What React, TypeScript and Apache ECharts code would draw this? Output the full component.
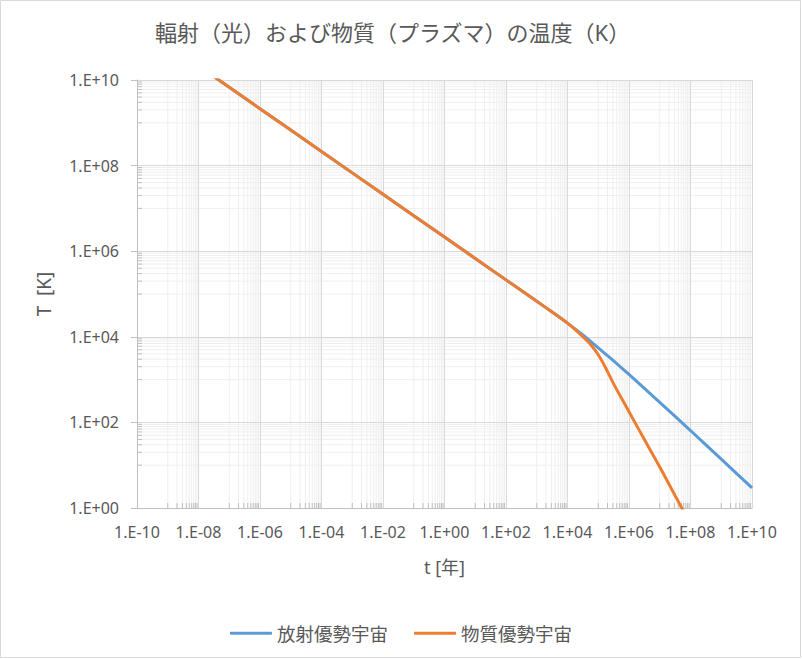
import React, { useEffect, useRef } from 'react';
import * as echarts from 'echarts';

// Time in years, temperature in K
const tRad = [1e-10, 1e-8, 1e-6, 1e-4, 1e-2, 1e0, 1e2, 1e3, 3.16e3, 1e4, 3.16e4, 1e5, 3.16e5, 1e6, 1e7, 1e8, 1e9, 1e10];
const TRad = [2.14e11, 2.14e10, 2.14e9, 2.14e8, 2.14e7, 2.14e6, 2.14e5, 6.76e4, 3.8e4, 2.09e4, 1.1e4, 5.5e3, 2.75e3, 1.32e3, 295, 64.6, 13.8, 2.95];

const tMat = [1e-10, 1e-8, 1e-6, 1e-4, 1e-2, 1e0, 1e2, 1e3, 3.16e3, 1e4, 1.78e4, 3.16e4, 5.62e4, 1e5, 1.78e5, 3.16e5, 1e6, 3.16e6, 1e7, 3.16e7, 1e8];
const TMat = [2.14e11, 2.14e10, 2.14e9, 2.14e8, 2.14e7, 2.14e6, 2.14e5, 6.76e4, 3.8e4, 2.09e4, 1.48e4, 1.0e4, 6.6e3, 3.8e3, 1.82e3, 794, 178, 39.8, 9.1, 1.95, 0.42];

const seriesNames = ['放射優勢宇宙', '物質優勢宇宙'];
const titleText = '輻射（光）および物質（プラズマ）の温度（K）';
const xAxisName = 't [年]';
const yAxisName = 'T  [K]';

const xTickLabels = ['1.E-10', '1.E-08', '1.E-06', '1.E-04', '1.E-02', '1.E+00', '1.E+02', '1.E+04', '1.E+06', '1.E+08', '1.E+10'];
const yTickLabels = ['1.E+00', '1.E+02', '1.E+04', '1.E+06', '1.E+08', '1.E+10'];

const X_MIN = 1e-10;
const X_MAX = 1e10;
const Y_MIN = 1;
const Y_MAX = 1e10;

// minor gridlines: multiples 10..90 of each major (every 2 decades)
const xMajorExps = [-10, -8, -6, -4, -2, 0, 2, 4, 6, 8];
const yMajorExps = [0, 2, 4, 6, 8];
const minorMultipliers = [10, 20, 30, 40, 50, 60, 70, 80, 90];

const FONT = '"Noto Sans", "Noto Sans CJK JP", sans-serif';
const TEXT_COLOR = '#595959';

export default function App() {
  const ref = useRef<HTMLDivElement>(null);

  useEffect(() => {
    if (!ref.current) return;
    const chart = echarts.init(ref.current, undefined, { renderer: 'svg' });

    const xMinor: number[][] = [];
    xMajorExps.forEach((e) => minorMultipliers.forEach((m) => xMinor.push([m * Math.pow(10, e), Y_MIN])));
    const yMinor: number[][] = [];
    yMajorExps.forEach((e) => minorMultipliers.forEach((m) => yMinor.push([X_MIN, m * Math.pow(10, e)])));

    const labelFor = (labels: string[], base: number) => (v: number) => {
      const e = Math.round(Math.log10(v));
      const idx = Math.round((e - base) / 2);
      return labels[idx] ?? '';
    };

    chart.setOption({
      animation: false,
      backgroundColor: '#ffffff',
      textStyle: { fontFamily: FONT },
      title: {
        text: titleText,
        left: 150,
        top: 16,
        textStyle: { fontFamily: FONT, fontSize: 22, fontWeight: 'normal', color: TEXT_COLOR },
      },
      legend: {
        data: seriesNames,
        left: 'center',
        top: 619,
        icon: 'roundRect',
        itemWidth: 42,
        itemHeight: 3,
        itemGap: 26,
        textStyle: { fontFamily: FONT, fontSize: 18.5, color: TEXT_COLOR },
      },
      grid: { left: 137, top: 80, width: 615, height: 428 },
      xAxis: {
        type: 'log',
        logBase: 10,
        min: X_MIN,
        max: X_MAX,
        interval: 2,
        name: xAxisName,
        nameLocation: 'middle',
        nameGap: 50,
        nameTextStyle: { fontFamily: FONT, fontSize: 18, color: TEXT_COLOR },
        axisLine: { show: true, lineStyle: { color: '#bfbfbf', width: 1 } },
        axisTick: { show: false },
        axisLabel: { formatter: labelFor(xTickLabels, -10), margin: 16, fontFamily: FONT, fontSize: 16, color: TEXT_COLOR },
        splitLine: { show: true, lineStyle: { color: '#d9d9d9', width: 1 } },
        minorTick: { show: false },
        minorSplitLine: { show: false },
      },
      yAxis: {
        type: 'log',
        logBase: 10,
        min: Y_MIN,
        max: Y_MAX,
        interval: 2,
        name: yAxisName,
        nameLocation: 'middle',
        nameGap: 84,
        nameTextStyle: { fontFamily: FONT, fontSize: 19, color: TEXT_COLOR },
        axisLine: { show: true, lineStyle: { color: '#bfbfbf', width: 1 } },
        axisTick: { show: true, inside: false, length: 6, lineStyle: { color: '#bfbfbf' } },
        axisLabel: { formatter: labelFor(yTickLabels, 0), margin: 18, fontFamily: FONT, fontSize: 16, color: TEXT_COLOR },
        splitLine: { show: true, lineStyle: { color: '#d9d9d9', width: 1 } },
        minorTick: { show: false },
        minorSplitLine: { show: false },
      },
      series: [
        {
          type: 'custom',
          name: 'xMinor',
          silent: true,
          z: -1,
          data: xMinor,
          encode: { x: 0, y: 1 },
          renderItem: (params: any, api: any) => {
            const v = api.value(0);
            const top = api.coord([v, Y_MAX]);
            const bot = api.coord([v, Y_MIN]);
            return {
              type: 'group',
              children: [
                { type: 'line', shape: { x1: top[0], y1: top[1], x2: bot[0], y2: bot[1] }, style: { stroke: '#efefef', lineWidth: 1 } },
                { type: 'line', shape: { x1: bot[0], y1: bot[1], x2: bot[0], y2: bot[1] - 5 }, style: { stroke: '#bfbfbf', lineWidth: 1 } },
              ],
            };
          },
        },
        {
          type: 'custom',
          name: 'yMinor',
          silent: true,
          z: -1,
          data: yMinor,
          encode: { x: 0, y: 1 },
          renderItem: (params: any, api: any) => {
            const v = api.value(1);
            const l = api.coord([X_MIN, v]);
            const r = api.coord([X_MAX, v]);
            return {
              type: 'group',
              children: [
                { type: 'line', shape: { x1: l[0], y1: l[1], x2: r[0], y2: r[1] }, style: { stroke: '#efefef', lineWidth: 1 } },
                { type: 'line', shape: { x1: l[0], y1: l[1], x2: l[0] + 5, y2: l[1] }, style: { stroke: '#bfbfbf', lineWidth: 1 } },
              ],
            };
          },
        },
        {
          type: 'line',
          name: seriesNames[0],
          data: tRad.map((t, i) => [t, TRad[i]]),
          showSymbol: false,
          symbol: 'none',
          smooth: 0.3,
          clip: true,
          z: 3,
          lineStyle: { color: '#5B9BD5', width: 3 },
          itemStyle: { color: '#5B9BD5' },
        },
        {
          type: 'line',
          name: seriesNames[1],
          data: tMat.map((t, i) => [t, TMat[i]]),
          showSymbol: false,
          symbol: 'none',
          smooth: 0.3,
          clip: true,
          z: 4,
          lineStyle: { color: '#ED7D31', width: 3 },
          itemStyle: { color: '#ED7D31' },
        },
      ],
      graphic: [
        {
          type: 'rect',
          shape: { x: 0.5, y: 0.5, width: 800, height: 657 },
          style: { fill: 'none', stroke: '#d9d9d9', lineWidth: 1 },
          silent: true,
        },
      ],
    });

    return () => chart.dispose();
  }, []);

  return <div ref={ref} style={{ position: 'fixed', left: 0, top: 0, width: 802, height: 659 }} />;
}
